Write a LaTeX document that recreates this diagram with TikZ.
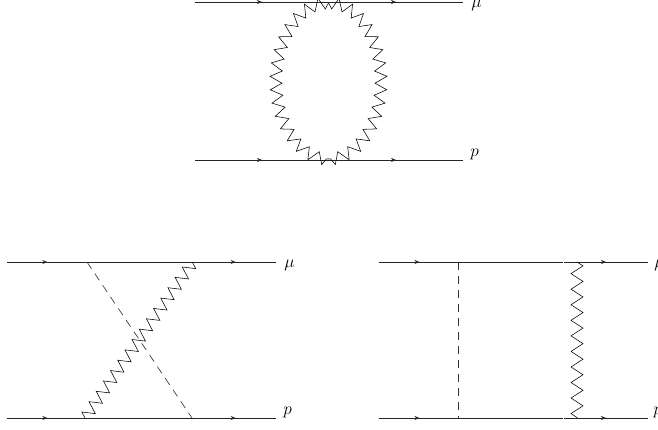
\documentclass[tikz,border=0pt]{standalone}
\usepackage{amsmath,amssymb}
\usepackage{tikz}
\usetikzlibrary{arrows.meta,decorations.markings,decorations.pathmorphing}

\begin{document}
\begin{tikzpicture}[
  x=1pt,y=-1pt,
  font=\LARGE,
  line width=.55pt,
  fer/.style={black!85,postaction={decorate,decoration={markings,
              mark=at position #1 with {\arrow{Stealth[length=5pt,width=4pt]}}}}},
  pho/.style={decorate,decoration={zigzag,segment length=#1,amplitude=6pt}},
  sca/.style={black!80,line width=.65pt,dash pattern=on 8pt off 6pt},
  lab/.style={inner sep=0pt,anchor=base west}]
\useasboundingbox (0,0) rectangle (658,430);
% top diagram
\coordinate (a1) at (195,2);
\coordinate (a2) at (463,2);
\coordinate (b1) at (195,160);
\coordinate (b2) at (463,160);
\coordinate (ring) at (328.5,3);
\node[lab] (amu) at (471,8) {$\mu$};
\node[lab] (ap) at (470,157) {$p$};
\draw[fer=.25,fer=.75] (a1)--(a2);
\draw[fer=.25,fer=.75] (b1)--(b2);
\draw[pho=12.8pt] (ring) arc[start angle=90,end angle=270,x radius=52.5pt,y radius=78pt];
\draw[pho=12.8pt,decoration={mirror}] (ring) arc[start angle=90,end angle=-90,x radius=52.5pt,y radius=78pt];
% left diagram
\coordinate (c1) at (7,262);
\coordinate (c2) at (276,262);
\coordinate (d1) at (7,418);
\coordinate (d2) at (276,418);
\coordinate (cs) at (87,262);
\coordinate (ds) at (192,418);
\coordinate (cw) at (193,262);
\coordinate (dw) at (85,418);
\node[lab] (cmu) at (284,268) {$\mu$};
\node[lab] (cp) at (283,414) {$p$};
\draw[fer=.15,fer=.85] (c1)--(c2);
\draw[fer=.15,fer=.85] (d1)--(d2);
\draw[sca] (cs)--(ds);
\draw[pho=12.6pt] (dw)--(cw);
% right diagram
\coordinate (e1) at (379,262);
\coordinate (e2) at (648,262);
\coordinate (e3) at (563,262);
\coordinate (e4) at (564,262);
\coordinate (f1) at (379,418);
\coordinate (f2) at (648,418);
\coordinate (f3) at (563,418);
\coordinate (f4) at (564,418);
\coordinate (es) at (458,262);
\coordinate (fs) at (458,418);
\coordinate (ew) at (577,262);
\coordinate (fw) at (577,418);
\node[lab] (emu) at (654,268) {$\mu$};
\node[lab] (fp) at (653,414) {$p$};
\draw[fer=.22] (e1)--(e3);
\draw[fer=.5] (e4)--(e2);
\draw[fer=.22] (f1)--(f3);
\draw[fer=.5] (f4)--(f2);
\draw[sca] (es)--(fs);
\draw[pho=15.55pt] (ew)--(fw);
\end{tikzpicture}
\end{document}
